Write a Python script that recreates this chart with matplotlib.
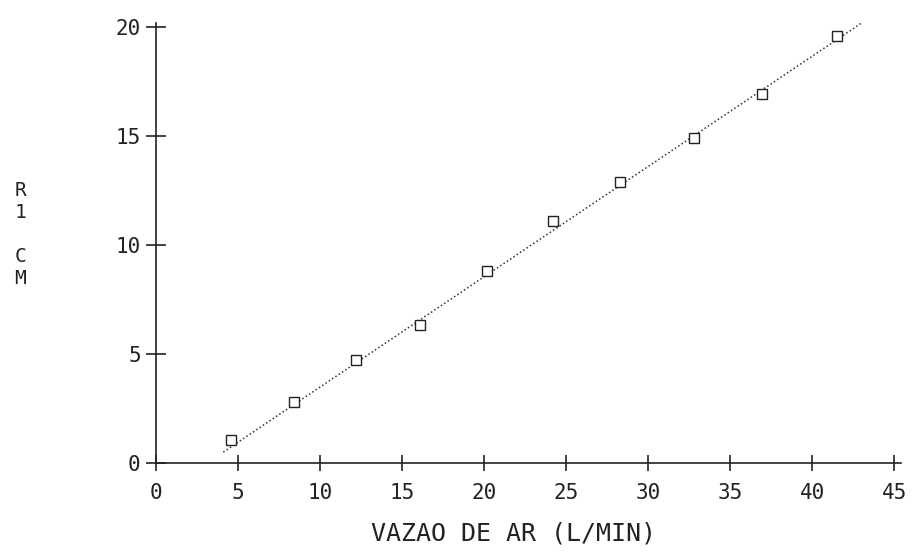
import numpy as np
import matplotlib.pyplot as plt

# measured points (air flow, L/min) vs R1 (cm)
vazao = [4.6, 8.4, 12.2, 16.1, 20.2, 24.2, 28.3, 32.8, 36.9, 41.5]
r1_cm = [1.05, 2.8, 4.75, 6.35, 8.8, 11.1, 12.9, 14.9, 16.95, 19.6]

# fitted line, end points
fit_x = [4.1, 43.0]
fit_y = [0.5, 20.2]

xticks = [0, 5, 10, 15, 20, 25, 30, 35, 40, 45]
yticks = [0, 5, 10, 15, 20]

plt.rcParams['font.family'] = 'DejaVu Sans Mono'

fig = plt.figure(figsize=(9.13, 5.53), dpi=100)
ax = fig.add_axes([156/913, 90/553, 745/913, 440/553])

ax.plot(fit_x, fit_y, color='#333333', lw=1.1, ls=(0, (1, 1.6)), clip_on=False)
ax.plot(vazao, r1_cm, ls='none', marker='s', ms=6.5, mfc='white', mec='#222222',
        mew=1.0, clip_on=False)

ax.set_xlim(0, 45.4)
ax.set_ylim(0, 20.2)
ax.set_xticks(xticks)
ax.set_yticks(yticks)
ax.set_xticklabels([str(v) for v in xticks], fontsize=15)
ax.set_yticklabels([str(v) for v in yticks], fontsize=15)

for s in ['top', 'right']:
    ax.spines[s].set_visible(False)
for s in ['left', 'bottom']:
    ax.spines[s].set_linewidth(1.2)
    ax.spines[s].set_color('#222222')

ax.tick_params(axis='x', direction='inout', length=11, width=1.2, pad=9, colors='#222222')
ax.tick_params(axis='y', direction='inout', length=14, width=1.2, pad=4, colors='#222222')

ax.set_xlabel('VAZAO DE AR (L/MIN)', fontsize=18, labelpad=13, color='#222222')
ax.xaxis.label.set_x(0.48)
fig.text(20/913, 1 - 235/553, 'R\n1\n\nC\nM', fontsize=14, ha='center', va='center',
         linespacing=1.2, color='#222222')

fig.savefig('out.png', dpi=100)
